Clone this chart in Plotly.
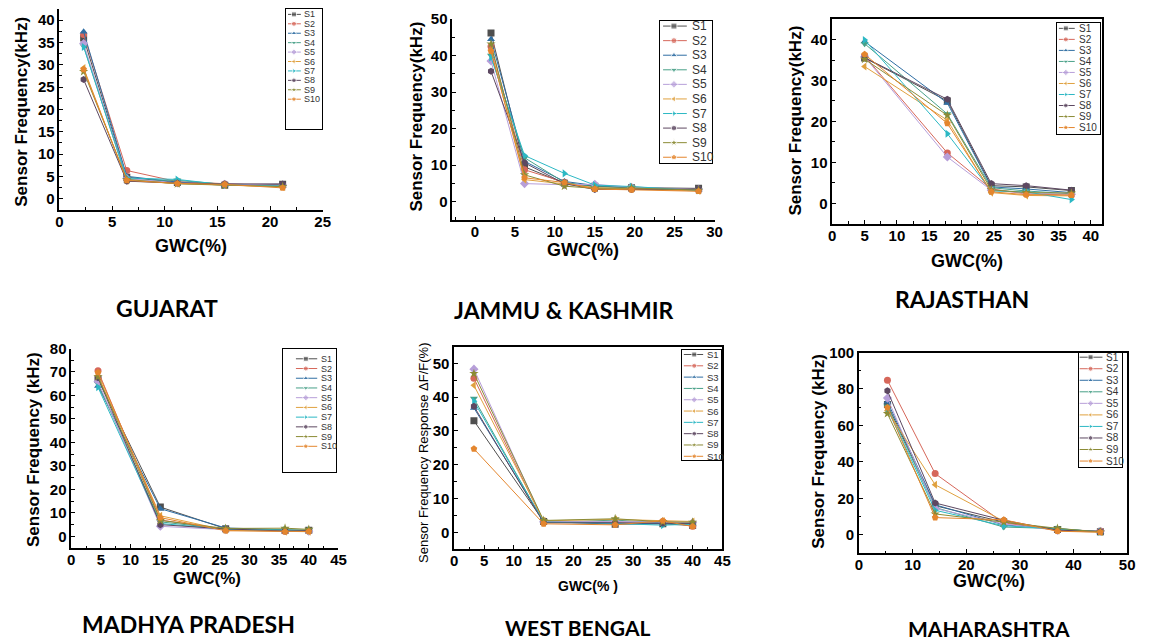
import plotly.graph_objects as go

W, H = 1153, 642
# vertical correction for the page placement of the figure (largest at the top edge)
TOP_SHIFT = -8

sensors = ["S1", "S2", "S3", "S4", "S5", "S6", "S7", "S8", "S9", "S10"]
colors = ["#4f4f4f", "#d6675a", "#2f6ea3", "#48a088", "#b79fd9",
          "#e0a13f", "#2cb8c4", "#5d4861", "#8b8b35", "#e4862e"]
symbols = ["square", "circle", "triangle-up", "triangle-down", "diamond",
           "triangle-left", "triangle-right", "hexagon", "star", "pentagon"]

# Gujarat: sensor frequency (kHz) vs gravimetric water content (%)
gujarat_gwc = [2.3, 6.4, 11.2, 15.7, 21.2]
gujarat_freq = [
    [36.0, 4.8, 3.6, 3.0, 3.2],
    [36.8, 6.3, 3.8, 3.3, 2.8],
    [37.4, 5.0, 3.7, 3.1, 2.9],
    [34.2, 4.2, 4.1, 3.2, 2.7],
    [34.8, 4.5, 3.5, 3.2, 3.0],
    [29.3, 4.0, 3.4, 3.0, 2.6],
    [34.0, 4.6, 4.3, 3.1, 2.8],
    [26.7, 3.9, 3.5, 3.3, 3.3],
    [28.5, 4.3, 3.3, 3.0, 2.7],
    [29.0, 4.1, 3.4, 3.2, 2.4],
]

# Jammu & Kashmir
jk_gwc = [2.0, 6.2, 11.2, 15.0, 19.6, 28.0]
jk_freq = [
    [46.2, 9.5, 5.0, 4.2, 3.8, 3.6],
    [42.5, 8.7, 5.3, 3.5, 3.4, 3.0],
    [44.5, 11.0, 5.5, 4.4, 3.6, 3.2],
    [40.0, 12.0, 5.2, 4.0, 4.0, 3.1],
    [38.5, 4.9, 4.6, 4.7, 3.9, 3.3],
    [41.5, 6.0, 4.8, 3.8, 3.5, 2.9],
    [39.5, 12.6, 7.7, 4.5, 4.1, 3.0],
    [35.7, 10.6, 4.9, 3.3, 3.3, 3.4],
    [43.2, 7.3, 4.2, 3.6, 3.7, 3.1],
    [41.2, 6.5, 5.2, 3.4, 3.2, 2.8],
]

# Rajasthan
raj_gwc = [5.0, 17.8, 24.6, 30.0, 37.0]
raj_freq = [
    [35.5, 25.0, 4.3, 4.0, 3.1],
    [36.0, 12.3, 3.5, 2.3, 2.0],
    [39.5, 24.5, 4.0, 3.5, 2.6],
    [39.0, 21.8, 3.8, 3.0, 2.3],
    [35.8, 11.3, 3.2, 2.5, 2.2],
    [33.4, 20.3, 2.6, 1.9, 1.8],
    [39.9, 17.0, 3.0, 2.8, 0.9],
    [35.6, 25.4, 4.8, 4.3, 3.2],
    [35.2, 21.5, 3.3, 2.6, 2.5],
    [36.4, 19.5, 2.8, 2.1, 2.0],
]

# Madhya Pradesh
mp_gwc = [4.5, 15.0, 26.0, 36.0, 40.0]
mp_freq = [
    [67.0, 12.5, 3.3, 2.5, 2.6],
    [70.5, 7.0, 2.8, 2.2, 2.3],
    [64.0, 11.8, 3.6, 2.8, 2.5],
    [65.0, 6.2, 3.1, 2.6, 2.7],
    [66.0, 4.3, 2.9, 2.4, 2.2],
    [68.5, 8.8, 2.6, 2.0, 2.0],
    [63.5, 5.5, 3.0, 2.7, 2.4],
    [67.5, 5.0, 3.2, 2.3, 2.5],
    [68.0, 6.8, 3.4, 3.5, 3.0],
    [69.8, 8.0, 2.4, 2.0, 2.1],
]

# West Bengal: frequency response dF/F (%)
wb_gwc = [3.3, 15.0, 27.0, 35.0, 40.0]
wb_resp = [
    [33.0, 3.2, 2.4, 2.5, 2.0],
    [45.6, 3.0, 3.0, 3.2, 1.8],
    [36.8, 3.3, 2.7, 2.6, 2.5],
    [39.6, 2.9, 3.6, 2.8, 2.7],
    [48.3, 3.1, 3.2, 3.0, 2.9],
    [43.5, 3.4, 3.8, 3.3, 3.2],
    [38.8, 3.0, 2.6, 2.1, 2.4],
    [37.3, 2.8, 2.8, 2.7, 2.6],
    [47.0, 3.5, 4.0, 3.1, 3.0],
    [24.7, 2.5, 2.2, 3.4, 1.7],
]

# Maharashtra
mh_gwc = [5.3, 14.2, 27.0, 37.0, 45.0]
mh_freq = [
    [71.5, 16.0, 7.0, 3.0, 1.8],
    [84.8, 33.6, 6.5, 2.8, 2.2],
    [73.0, 16.5, 5.5, 3.2, 1.7],
    [70.5, 15.0, 4.3, 3.5, 1.6],
    [75.0, 14.5, 6.0, 2.5, 2.0],
    [68.0, 27.5, 7.5, 2.3, 1.5],
    [69.0, 13.5, 5.0, 3.0, 1.8],
    [79.0, 17.5, 8.0, 2.6, 1.9],
    [66.5, 11.5, 7.0, 3.6, 1.6],
    [69.8, 9.5, 8.3, 2.0, 1.5],
]

# Panel layout (pixel boxes: left, right, top, bottom)
panels = [
    dict(state="GUJARAT", state_pos=(165, 307), state_size=23, gwc=gujarat_gwc, vals=gujarat_freq,
         box=(56, 322, 8, 209), xr=[0, 25], xd=5, yr=[-2.5, 42.5], yd=5, mirror=False,
         tick=15, ytitle="Sensor Frequency(kHz)", ytpos=(18, 111), ysize=17, ybold=True,
         xtitle="GWC(%)", xtpos=(189, 245), xsize=18,
         leg=dict(box=(285, 321, 8, 128), first=13.3, step=9.44, line=(287, 300),
                  mark=293, text=301.5, font=9, ms=5)),
    dict(state="JAMMU & KASHMIR", state_pos=(566, 309), state_size=23, gwc=jk_gwc, vals=jk_freq,
         box=(453, 718, 18, 219), xr=[-2.85, 30], xd=5, yr=[-5, 50], yd=10, mirror=False,
         tick=15, ytitle="Sensor Frequency(kHz)", ytpos=(417, 116), ysize=17, ybold=True,
         xtitle="GWC(%)", xtpos=(585, 249), xsize=18,
         leg=dict(box=(663, 715, 20, 162), first=25, step=14.6, line=(666, 690),
                  mark=677, text=693, font=12, ms=6)),
    dict(state="RAJASTHAN", state_pos=(968, 298), state_size=23, gwc=raj_gwc, vals=raj_freq,
         box=(837, 1110, 18, 223), xr=[0, 41.8], xd=5, yr=[-5, 45], yd=10, mirror=True,
         tick=15, ytitle="Sensor Frequency(kHz)", ytpos=(800, 120), ysize=17, ybold=True,
         xtitle="GWC(%)", xtpos=(973, 260), xsize=18,
         leg=dict(box=(1064, 1108, 22, 133), first=27.3, step=11.04, line=(1066, 1082),
                  mark=1073, text=1084, font=10, ms=5)),
    dict(state="MADHYA PRADESH", state_pos=(186, 624), state_size=23, gwc=mp_gwc, vals=mp_freq,
         box=(68, 338, 348, 548), xr=[0, 45], xd=5, yr=[-5, 80], yd=10, mirror=False,
         tick=15, ytitle="Sensor Frequency (kHz)", ytpos=(30, 449), ysize=17, ybold=True,
         xtitle="GWC(%)", xtpos=(205, 578), xsize=17,
         leg=dict(box=(282, 335, 348, 472), first=358.3, step=9.74, line=(295, 316.5),
                  mark=305, text=318, font=9, ms=5)),
    dict(state="WEST BENGAL", state_pos=(580, 627), state_size=21, gwc=wb_gwc, vals=wb_resp,
         box=(455, 726, 346, 549), xr=[0, 45], xd=5, yr=[-5, 55], yd=10, mirror=True,
         tick=15, ytitle="Sensor Frequency Response ΔF/F(%)", ytpos=(424, 453), ysize=13,
         ybold=False, xtitle="GWC(% )", xtpos=(590, 586), xsize=14,
         leg=dict(box=(685, 725, 349, 460), first=354, step=11.33, line=(687, 706.5),
                  mark=697.5, text=708, font=9.5, ms=5)),
    dict(state="MAHARASHTRA", state_pos=(995, 628), state_size=21, gwc=mh_gwc, vals=mh_freq,
         box=(864, 1135, 352, 553), xr=[0, 50], xd=10, yr=[-10, 100], yd=20, mirror=True,
         tick=15, ytitle="Sensor Frequency (kHz)", ytpos=(823, 451), ysize=17, ybold=True,
         xtitle="GWC(%)", xtpos=(995, 581), xsize=18,
         leg=dict(box=(1086, 1130, 352, 467), first=356.7, step=11.56, line=(1087, 1110),
                  mark=1098, text=1111.5, font=10, ms=5)),
]


def fx(px):
    return min(max(px / W, 0.0), 1.0)


def fy(py):
    shifted = py + TOP_SHIFT * (1 - py / H)
    return min(max(1 - shifted / H, 0.0), 1.0)


fig = go.Figure()
layout = dict(width=W, height=H, margin=dict(l=0, r=0, t=0, b=0),
              paper_bgcolor="white", plot_bgcolor="white", showlegend=False)
annotations = []
TICKFAMILY = "Liberation Sans, Arial, sans-serif"

for k, p in enumerate(panels):
    n = k + 1
    sx = "" if n == 1 else str(n)
    x0, x1, y0, y1 = p["box"]
    axis_common = dict(showline=True, linecolor="black", linewidth=1.6,
                       ticks="inside", ticklen=4, tickwidth=1.4, tickcolor="black",
                       showgrid=False, zeroline=False, mirror=p["mirror"],
                       tickprefix="<b>", ticksuffix="</b>",
                       tickfont=dict(family=TICKFAMILY, size=p["tick"], color="black",
                                     weight="bold"))
    layout["xaxis" + sx] = dict(axis_common, domain=[fx(x0), fx(x1)], range=p["xr"],
                                tick0=0, dtick=p["xd"], anchor="y" + sx,
                                ticklabelstandoff=-3,
                                minor=dict(ticks="inside", ticklen=2.5, tickcolor="black",
                                           dtick=p["xd"] / 2, tick0=0))
    layout["yaxis" + sx] = dict(axis_common, domain=[fy(y1), fy(y0)], range=p["yr"],
                                tick0=0, dtick=p["yd"], anchor="x" + sx,
                                minor=dict(ticks="inside", ticklen=2.5, tickcolor="black",
                                           dtick=p["yd"] / 2, tick0=0))
    for i, s in enumerate(sensors):
        fig.add_trace(go.Scatter(
            x=p["gwc"], y=p["vals"][i], name=s, mode="lines+markers",
            xaxis="x" + sx, yaxis="y" + sx,
            line=dict(color=colors[i], width=1),
            marker=dict(symbol=symbols[i], size=7, color=colors[i]),
        ))

    # axis titles and state name
    tx, ty = p["ytpos"]
    annotations.append(dict(text=p["ytitle"], x=fx(tx), y=fy(ty), xref="paper", yref="paper",
                            textangle=-90, showarrow=False, xanchor="center", yanchor="middle",
                            font=dict(family=TICKFAMILY, size=p["ysize"], color="black",
                                      weight="bold" if p["ybold"] else "normal")))
    tx, ty = p["xtpos"]
    annotations.append(dict(text=p["xtitle"], x=fx(tx), y=fy(ty), xref="paper", yref="paper",
                            showarrow=False, xanchor="center", yanchor="middle",
                            font=dict(family=TICKFAMILY, size=p["xsize"], color="black",
                                      weight="bold")))
    tx, ty = p["state_pos"]
    annotations.append(dict(text=p["state"], x=fx(tx), y=fy(ty), xref="paper", yref="paper",
                            showarrow=False, xanchor="center", yanchor="middle",
                            font=dict(family="Lato, Open Sans, sans-serif", size=p["state_size"],
                                      color="black", weight="bold")))

# legend boxes drawn as small inset axes
for k, p in enumerate(panels):
    n = len(panels) + k + 1
    sx = str(n)
    lg = p["leg"]
    bx0, bx1, by0, by1 = lg["box"]
    inset = dict(showline=True, mirror=True, linecolor="black", linewidth=1.3,
                 showticklabels=False, ticks="", showgrid=False, zeroline=False,
                 fixedrange=True)
    layout["xaxis" + sx] = dict(inset, domain=[fx(bx0), fx(bx1)], range=[bx0, bx1],
                                anchor="y" + sx)
    layout["yaxis" + sx] = dict(inset, domain=[fy(by1), fy(by0)], range=[by1, by0],
                                anchor="x" + sx)
    for i, s in enumerate(sensors):
        ey = lg["first"] + i * lg["step"]
        fig.add_trace(go.Scatter(
            x=[lg["line"][0], lg["mark"], lg["line"][1]], y=[ey, ey, ey],
            mode="lines+markers", xaxis="x" + sx, yaxis="y" + sx, hoverinfo="skip",
            line=dict(color=colors[i], width=1),
            marker=dict(symbol=symbols[i], size=[0, lg["ms"], 0], color=colors[i]),
        ))
        annotations.append(dict(text=s, x=lg["text"], y=ey, xref="x" + sx, yref="y" + sx,
                                showarrow=False, xanchor="left", yanchor="middle",
                                font=dict(family=TICKFAMILY, size=lg["font"], color="#333333")))

layout["annotations"] = annotations
fig.update_layout(**layout)
fig.write_html("out.html")
